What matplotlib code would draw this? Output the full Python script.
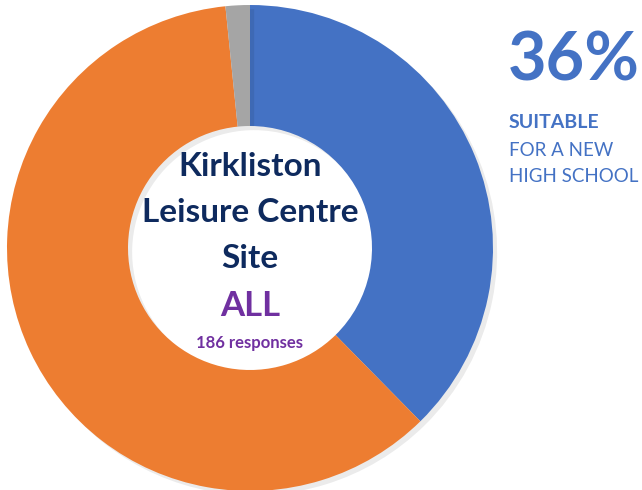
import matplotlib
matplotlib.use("Agg")
import matplotlib.pyplot as plt
import matplotlib.patheffects as pe

# data
labels = ["Suitable", "Not suitable", "No answer"]
counts = [70, 113, 3]
colors = ["#4472C4", "#ED7D31", "#A5A5A5"]
headline = "36%"
total_responses = 186

NAVY = "#0E2A5E"
PURPLE = "#7030A0"
BLUE = "#4472C4"
H = 490  # figure height in px, text positions below are measured from the top

plt.rcParams["font.family"] = ["Lato", "DejaVu Sans"]

fig = plt.figure(figsize=(6.42, 4.9), dpi=100)
ax = fig.add_axes([0, 0, 1, 1])

cx, cy, r_out, r_in = 250, H - 248, 243, 122

wedges, _ = ax.pie(
    counts, colors=colors, startangle=90, counterclock=False,
    center=(cx, cy), radius=r_out, frame=True,
    wedgeprops=dict(width=r_out - r_in, edgecolor="none"),
)
for w in wedges:
    w.set_path_effects([pe.SimplePatchShadow(offset=(3, -3), shadow_rgbFace="#000000", alpha=0.08),
                        pe.Normal()])
ax.set_xlim(0, 642)
ax.set_ylim(0, H)
ax.set_aspect("equal")
ax.axis("off")

# centre text
for y, line in zip([167, 213, 259], ["Kirkliston", "Leisure Centre", "Site"]):
    ax.text(cx, H - y, line, ha="center", va="center", fontsize=24,
            fontweight="bold", color=NAVY)
ax.text(cx, H - 306, "ALL", ha="center", va="center", fontsize=25,
        fontweight="bold", color=PURPLE)
ax.text(cx, H - 343, f"{total_responses} responses", ha="center", va="center",
        fontsize=12, fontweight="bold", color=PURPLE)

# right side headline
ax.text(508, H - 62, headline, ha="left", va="center", fontsize=48,
        fontweight="bold", color=BLUE)
ax.text(509, H - 122, "SUITABLE", ha="left", va="center", fontsize=14,
        fontweight="bold", color=BLUE)
ax.text(509, H - 150, "FOR A NEW", ha="left", va="center", fontsize=13.5, color=BLUE)
ax.text(509, H - 177, "HIGH SCHOOL", ha="left", va="center", fontsize=13.5, color=BLUE)

fig.savefig("out.png", dpi=100)
